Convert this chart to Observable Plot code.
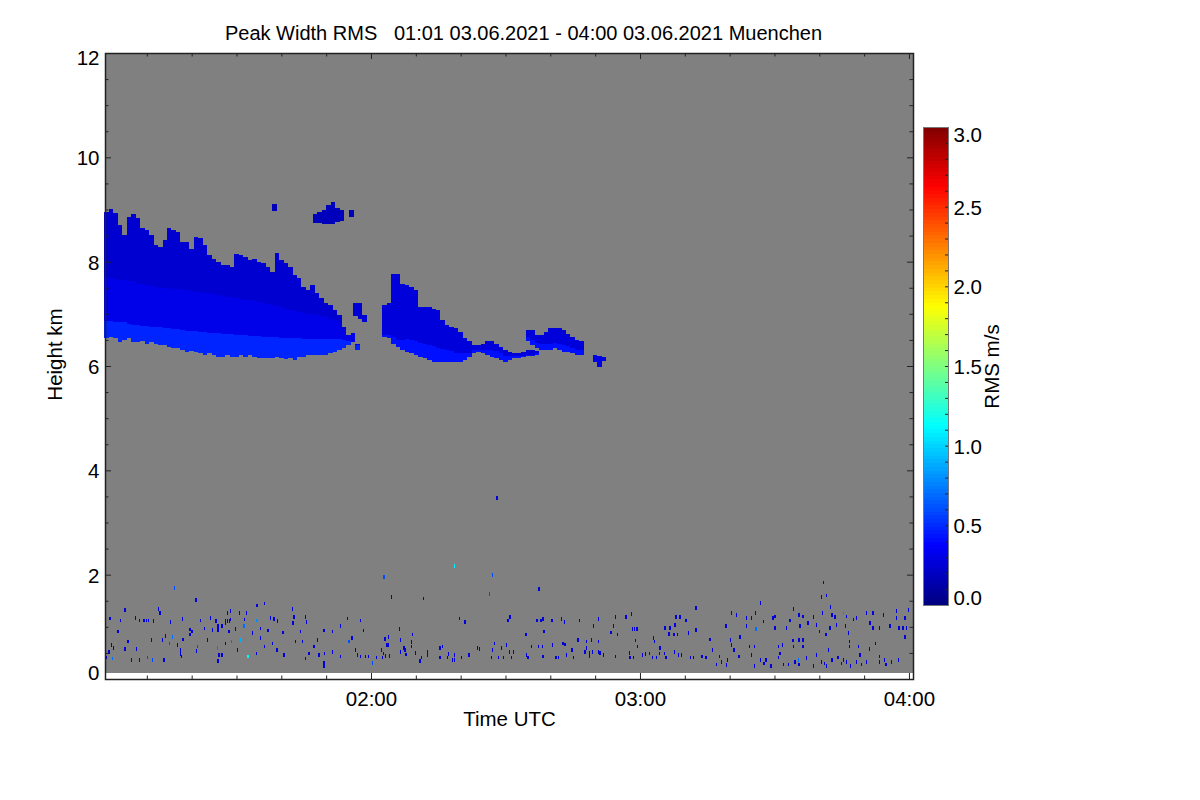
<!DOCTYPE html>
<html><head><meta charset="utf-8">
<script src="https://cdn.jsdelivr.net/npm/d3@7"></script>
<script src="https://cdn.jsdelivr.net/npm/@observablehq/plot@0.6"></script>
<style>
body{margin:0;background:#fff;}
#wrap{position:relative;width:1200px;height:800px;overflow:hidden;}
#wrap svg{position:absolute;top:0;}
</style></head><body><div id="wrap"></div>
<script>
// ---- axes / text ----
const titleText = "Peak Width RMS   01:01 03.06.2021 - 04:00 03.06.2021 Muenchen";
const xLabel = "Time UTC", yLabel = "Height km", cbLabel = "RMS m/s";
const timeStart = 0.67, timeEnd = 180.9;          // minutes after 01:00 UTC
const heightMin = 0.115, heightMax = 12;           // km (lowest gate .. top)
const xMajor = [60, 120, 180];
const xMajorLabels = ["02:00", "03:00", "04:00"];
const xMinor = [10, 20, 30, 40, 50, 70, 80, 90, 100, 110, 130, 140, 150, 160, 170];
const yMajor = [0, 2, 4, 6, 8, 10, 12];
const yMinor = [0.5,1,1.5,2.5,3,3.5,4.5,5,5.5,6.5,7,7.5,8.5,9,9.5,10.5,11,11.5];
const cbTicks = [0, 0.5, 1.0, 1.5, 2.0, 2.5, 3.0];
const jetStops = [0, 0.375, 1.125, 1.875, 2.625, 3];
const jetColors = ["#00007f", "#0000ff", "#00ffff", "#ffff00", "#ff0000", "#7f0000"];

// ---- main cirrus cloud (01:01-01:57), 1-min columns ----
const cloudATime = d3.range(1, 58);
const cloudATop = [8.96,9.01,8.93,8.70,8.51,8.86,8.91,8.83,8.64,8.61,
 8.52,8.32,8.29,8.41,8.64,8.61,8.57,8.38,8.38,8.25,
 8.48,8.45,8.32,8.13,8.06,8.00,7.94,7.94,7.90,8.14,
 8.13,8.09,8.03,8.06,8.00,7.97,7.90,7.81,8.16,8.03,
 7.97,7.90,7.74,7.68,7.52,7.46,7.55,7.39,7.30,7.20,
 7.17,7.07,6.98,6.75,6.59,6.63,6.43];
const cloudAMid = [7.68,7.68,7.66,7.65,7.64,7.63,7.62,7.6,7.58,7.56,
 7.54,7.52,7.5,7.5,7.5,7.48,7.47,7.46,7.45,7.44,
 7.42,7.41,7.4,7.39,7.38,7.36,7.34,7.33,7.32,7.3,
 7.28,7.27,7.26,7.24,7.22,7.2,7.18,7.16,7.15,7.13,
 7.1,7.08,7.06,7.04,7.02,7.0,7.0,6.98,6.96,6.94,
 6.9,6.88,6.85,6.7,6.59,6.63,6.43];
const cloudABand = [6.86,6.86,6.85,6.84,6.84,6.8,6.78,6.78,6.77,6.76,
 6.75,6.75,6.74,6.73,6.72,6.7,6.7,6.69,6.68,6.68,
 6.67,6.66,6.65,6.64,6.63,6.63,6.62,6.62,6.61,6.6,
 6.6,6.59,6.58,6.58,6.57,6.56,6.56,6.55,6.55,6.54,
 6.54,6.53,6.53,6.53,6.52,6.52,6.52,6.52,6.52,6.52,
 6.52,6.52,6.51,6.5,6.48,6.46,6.4];
const cloudABase = [6.53,6.56,6.53,6.46,6.50,6.53,6.46,6.46,6.48,6.43,
 6.46,6.43,6.40,6.40,6.37,6.34,6.34,6.30,6.27,6.29,
 6.27,6.24,6.21,6.24,6.21,6.18,6.18,6.21,6.18,6.18,
 6.21,6.18,6.21,6.18,6.15,6.16,6.15,6.16,6.18,6.15,
 6.13,6.15,6.11,6.18,6.18,6.21,6.21,6.22,6.21,6.22,
 6.24,6.27,6.30,6.34,6.40,6.46,6.30];
const cloudAValues = [0.48, 0.31, 0.24]; // lower band, body, upper part

// ---- second cloud (01:63-01:97) ----
const cloudBTime = d3.range(63, 98);
const cloudBTop = [7.17,7.2,7.77,7.77,7.58,7.55,7.52,7.46,7.14,7.14,7.14,7.1,7.07,6.88,6.79,6.75,6.72,6.66,6.53,6.47,6.4,6.4,6.43,6.47,6.47,6.43,6.37,6.31,6.27,6.24,6.24,6.27,6.3,6.3,6.28];
const cloudBBand = [6.6,6.6,6.55,6.5,6.5,6.52,6.5,6.48,6.45,6.42,6.4,6.38,6.35,6.33,6.3,6.28,6.25,6.25,6.25,6.25,6.3,6.3,6.3,6.3,6.3,6.28,6.25,6.2,6.2,6.2,6.2,6.2,6.22,6.22,6.24];
const cloudBBase = [6.56,6.53,6.43,6.36,6.31,6.27,6.24,6.21,6.18,6.15,6.11,6.08,6.08,6.08,6.08,6.08,6.08,6.08,6.11,6.18,6.24,6.27,6.24,6.21,6.18,6.15,6.11,6.08,6.11,6.15,6.15,6.18,6.2,6.2,6.22];
// ---- third cloud (02:35-02:47) ----
const cloudCTime = d3.range(95, 108);
const cloudCTop = [6.69,6.69,6.59,6.59,6.66,6.72,6.72,6.72,6.69,6.62,6.56,6.5,6.47];
const cloudCBand = [6.55,6.5,6.45,6.42,6.42,6.42,6.45,6.42,6.4,6.38,6.35,6.3,6.3];
const cloudCBase = [6.47,6.4,6.34,6.31,6.31,6.31,6.34,6.31,6.27,6.27,6.24,6.21,6.21];
const cloudBCValues = [0.42, 0.27];

// ---- small blobs ----
const blobTime = [38.5, 47.5,48.5,49.5,50.5,51.5,52.5,53.5, 55.6, 56.5,57.5,58.5, 110,111,112];
const blobTop  = [9.1, 8.91,8.95,9.0,9.08,9.14,9.02,9.0, 9.0, 7.2,7.2,6.98, 6.22,6.2,6.18];
const blobBase = [8.98, 8.74,8.74,8.72,8.72,8.72,8.76,8.78, 8.85, 6.95,6.9,6.85, 6.08,5.99,6.1];
const blobValue = [0.18, 0.18,0.18,0.18,0.18,0.18,0.18,0.18, 0.18, 0.25,0.25,0.25, 0.3,0.3,0.3];

// ---- boundary-layer speckles [minute, km, rms] ----
const speckles = [
[16.1,1.75,0.6],[21.0,1.51],[5.1,1.32],[12.6,1.34],[12.9,1.26],[34.6,1.41],[36.3,1.45],[42.5,1.34],[28.7,1.3],[28.0,1.26],
[1.8,1.16],[4.2,1.12],[7.5,1.17],[8.4,1.12],[9.4,1.12],[9.9,1.12],[10.4,1.12],[11.5,1.11],[15.3,1.09],[17.9,1.15],
[22.0,1.12],[24.2,1.17],[25.4,1.11],[25.9,1.01],[25.9,0.94],[27.6,1.11],[28.0,1.11],[28.5,1.11],[27.6,1.07],[28.7,1.14],
[30.6,1.26],[32.3,1.26],[31.8,1.14],[34.6,1.12,0.8],[37.6,1.17],[38.4,1.15],[39.1,1.11],[42.8,1.19],[42.6,1.07],[45.4,1.19],
[45.6,1.09],[54.7,1.16],[57.6,1.12],[58.3,0.93],[53.2,1.01],[49.5,0.93],[51.4,0.91],[44.3,0.91],[40.4,0.89],[37.0,0.93],
[35.4,0.97],[33.6,0.88],[31.7,1.01,0.7],[29.8,0.96],[28.3,0.91],[26.8,1.01],[24.6,0.94],[22.8,0.97],[19.6,0.95],[19.6,0.85],
[20.1,0.91],[14.2,0.83],[15.7,0.81,0.7],[3.6,0.91],[3.0,0.68,0.9],[2.1,0.65],[2.5,0.59],[1.6,0.52],[1.0,0.41],[2.3,0.39,0.7],
[5.1,0.57],[5.8,0.72],[7.7,0.57],[6.6,0.37],[8.3,0.37],[10.1,0.41,0.6],[11.2,0.37,0.6],[13.8,0.36],[11.0,0.75],[13.5,0.75],
[15.1,0.68,0.6],[16.8,0.65],[17.5,0.56],[17.5,0.48],[17.7,0.43],[18.1,0.76],[21.3,0.62,0.6],[21.1,0.54],[25.7,0.59,2.5],[23.5,0.75],
[26.1,0.46],[25.9,0.35],[26.8,0.46],[27.6,0.68],[28.9,0.72,0.7],[30.9,0.75,0.9],[30.2,0.56],[32.6,0.43,1.1],[34.5,0.49],[35.4,0.78],
[36.3,0.62],[38.0,0.68],[39.0,0.56],[40.6,0.46],[43.2,0.72],[44.7,0.72],[45.4,0.39],[46.2,0.49],[47.3,0.62],[48.0,0.75],
[48.4,0.46],[49.5,0.31],[49.5,0.25],[49.7,0.49],[51.4,0.52],[53.2,0.43],[55.1,0.72,0.6],[55.8,0.78],[56.6,0.56],[57.0,0.46],
[57.7,0.43],[58.8,0.43],[59.5,0.43],[60.3,0.31],
[78.7,2.17,1.1],[62.9,1.96,0.6],[87.1,1.99,0.6],[86.5,1.63,0.6],[64.6,1.57],[71.7,1.54],[97.5,1.72],[88.1,3.47],[79.7,1.16],[81.0,1.09],
[90.6,1.12],[91.0,1.19],[97.0,1.12],[97.9,1.12],[98.4,1.15],[100.4,1.12],[102.5,1.15],[103.1,1.09],[106.5,1.12],[110.7,1.15],
[114.6,1.19],[116.9,1.19],[118.1,1.25],[118.3,0.96],[118.8,0.96],[119.3,0.96],[114.1,1.02],[113.5,0.89],[115.0,0.85],[109.6,1.01],
[98.6,0.91],[94.6,0.85],[106.2,0.75],[108.1,0.72],[109.2,0.75],[110.7,0.72],[119.0,0.74],[119.5,0.62],[66.3,0.96],[63.9,0.8],
[63.1,0.77],[63.5,0.65],[63.8,0.65],[62.4,0.56],[62.8,0.49],[61.3,0.41],[60.4,0.31,0.6],[62.5,0.41],[64.2,0.44],[63.3,0.44],
[66.6,0.75],[67.4,0.59],[67.6,0.56],[66.6,0.52],[69.1,0.71],[69.1,0.62],[67.8,0.47],[69.2,0.85],[70.0,0.5],[71.3,0.41],
[70.9,0.35],[72.6,0.52],[72.6,0.46],[75.4,0.59],[76.0,0.62],[75.4,0.41],[77.3,0.48],[77.0,0.41],[78.2,0.37],[78.7,0.37],
[78.7,0.46],[80.2,0.41],[81.9,0.46],[84.2,0.57],[83.8,0.59],[87.1,0.56],[87.5,0.68],[86.9,0.41],[88.4,0.41],[89.5,0.41],
[89.1,0.59],[90.3,0.65],[90.9,0.52],[91.8,0.52],[91.4,0.41],[94.7,0.46],[95.0,0.41],[95.8,0.62],[97.3,0.62],[98.3,0.62],
[98.4,0.43],[100.5,0.65],[101.3,0.41],[101.8,0.41],[102.8,0.68],[103.3,0.66],[103.6,0.46],[104.8,0.56],[105.1,0.41],[107.7,0.52],
[108.1,0.59],[108.8,0.5],[108.8,0.43],[109.4,0.52],[110.7,0.52],[111.1,0.5],[111.8,0.46],[114.6,0.43],[117.6,0.5],[117.8,0.41],
[118.5,0.41],
[160.9,1.85],[160.5,1.57],[161.6,1.6],[146.9,1.46],[132.5,1.36],[154.2,1.34],[162.5,1.38],[165.4,1.27,0.8],[177.2,1.3],[179.9,1.32],
[128.0,1.19],[128.9,1.19],[130.3,1.12],[140.4,1.27],[141.6,1.23],[143.8,1.17],[144.9,1.17],[145.7,1.27],[149.7,1.17],[150.1,1.2],
[153.5,1.12],[155.5,1.23],[156.4,1.2],[158.7,1.19],[160.7,1.27],[162.8,1.23],[163.5,1.19],[166.1,1.2],[167.6,1.14],[170.6,1.27],
[172.0,1.27],[174.3,1.23],[177.2,1.17],[179.1,1.17],[125.6,0.98],[126.7,0.98],[127.8,1.04],[126.5,0.86],[127.6,0.85],[128.3,0.85],
[130.8,0.88],[132.5,0.94],[139.2,1.01],[142.3,0.81],[143.8,1.01],[145.9,0.96,0.7],[147.5,1.1],[150.1,0.98],[152.7,0.98],[155.7,1.01],
[157.5,1.07],[159.4,1.04],[160.1,0.91],[161.5,0.85],[162.4,0.98],[163.9,1.04],[165.9,1.01],[166.5,0.88],[168.3,1.17],[171.3,1.07],
[172.0,0.98],[173.5,0.98],[175.8,1.01],[177.8,0.98],[178.7,0.98],[179.5,0.98],[179.1,0.81],[123.0,0.78],[123.3,0.72],[135.6,0.76],
[140.2,0.75],[140.4,0.65],[144.5,0.62],[145.6,0.62],[150.9,0.62],[151.8,0.65],[154.1,0.74],[154.2,0.62],[155.5,0.75],[156.4,0.62],
[156.4,0.75],[162.0,0.56],[166.7,0.72],[166.8,0.62],[168.7,0.62],[171.2,0.58],[172.6,0.68],[124.5,0.59],[124.3,0.49],[125.4,0.49],
[120.6,0.46],[121.3,0.48],[122.1,0.49],[122.8,0.41],[123.7,0.41],[125.8,0.41],[127.7,0.52],[128.6,0.46],[129.3,0.46],[131.2,0.41],
[131.9,0.41],[133.8,0.43],[134.7,0.41],[136.2,0.56],[137.1,0.28],[137.8,0.43],[138.2,0.32],[139.5,0.36],[139.3,0.27],[141.0,0.56],
[142.1,0.43],[144.9,0.46],[145.6,0.25],[146.9,0.36],[147.7,0.3],[148.1,0.36],[149.2,0.25],[150.9,0.41],[151.2,0.49],[152.0,0.28],
[153.1,0.28],[154.6,0.33],[155.3,0.36,0.7],[155.5,0.28],[157.2,0.4],[158.7,0.25],[159.4,0.46],[160.5,0.32],[161.1,0.3],[161.6,0.25],
[162.8,0.36],[164.2,0.41],[165.0,0.3],[165.4,0.36],[166.0,0.32],[167.0,0.25],[168.3,0.32],[169.1,0.46],[169.4,0.28],[170.6,0.32],
[173.4,0.43],[173.4,0.32],[174.6,0.36],[174.9,0.28],[176.1,0.32],[177.6,0.36]
];
const speckleDefault = 0.26;

// ---------------- build tables ----------------
const colW = 1;             // column width, minutes
const spW = 0.3, spH = 0.07; // speckle cell size
const cloudA = cloudATime.map((t,i)=>({t, base:cloudABase[i], band:cloudABand[i], mid:cloudAMid[i], top:cloudATop[i]}));
const cloudB = cloudBTime.map((t,i)=>({t, base:cloudBBase[i], band:cloudBBand[i], top:cloudBTop[i]}));
const cloudC = cloudCTime.map((t,i)=>({t, base:cloudCBase[i], band:cloudCBand[i], top:cloudCTop[i]}));
const blobs = blobTime.map((t,i)=>({t, base:blobBase[i], top:blobTop[i], v:blobValue[i]}));
const specks = speckles.map(s=>({t:s[0], h:s[1], v: s[2] ?? speckleDefault}));
const bg = [{t1:timeStart, t2:timeEnd, h1:heightMin, h2:heightMax}];

const colorScale = {type:"linear", domain:jetStops, range:jetColors, clamp:true};
const font = "Liberation Sans, Arial, Helvetica, sans-serif";
const fs = 20.5;
const M = {l:105, r:287, t:53, b:121};
const plotW = 1200 - M.l - M.r, plotH = 800 - M.t - M.b;
const ink = "#222";

const colRect = (data, y1, y2, v) => Plot.rect(data, {
  x1: d=>d.t-colW/2, x2: d=>d.t+colW/2, y1, y2, fill: typeof v === "function" ? v : () => v,
  shapeRendering:"crispEdges"
});
const T = (opts) => ({fontSize:fs, fill:"#000", ...opts});

const main = Plot.plot({
  width:1200, height:800,
  marginLeft:M.l, marginRight:M.r, marginTop:M.t, marginBottom:M.b,
  x:{domain:[timeStart,timeEnd], axis:null},
  y:{domain:[0,heightMax], axis:null},
  color:colorScale,
  style:{fontFamily:font, fontSize:fs+"px", background:"#fff", overflow:"visible"},
  marks:[
    Plot.rect(bg, {x1:"t1", x2:"t2", y1:"h1", y2:"h2", fill:"#808080"}),
    colRect(cloudA, "base", "band", cloudAValues[0]),
    colRect(cloudA, "band", "mid", cloudAValues[1]),
    colRect(cloudA, "mid", "top", cloudAValues[2]),
    colRect(cloudB, "base", "band", cloudBCValues[0]),
    colRect(cloudB, "band", "top", cloudBCValues[1]),
    colRect(cloudC, "base", "band", cloudBCValues[0]),
    colRect(cloudC, "band", "top", cloudBCValues[1]),
    colRect(blobs, "base", "top", d=>d.v),
    Plot.rect(specks, {x1:d=>d.t-spW/2, x2:d=>d.t+spW/2, y1:d=>d.h-spH/2, y2:d=>d.h+spH/2, fill:"v", shapeRendering:"crispEdges"}),
    // ticks (inward) on all four sides
    Plot.tickX(xMajor, {x:d=>d, insetTop:plotH-6, stroke:ink}),
    Plot.tickX(xMinor, {x:d=>d, insetTop:plotH-3.5, stroke:ink}),
    Plot.tickX(xMajor, {x:d=>d, insetBottom:plotH-6, stroke:ink}),
    Plot.tickX(xMinor, {x:d=>d, insetBottom:plotH-3.5, stroke:ink}),
    Plot.tickY(yMajor, {y:d=>d, insetRight:plotW-6, stroke:ink}),
    Plot.tickY(yMinor, {y:d=>d, insetRight:plotW-3.5, stroke:ink}),
    Plot.tickY(yMajor, {y:d=>d, insetLeft:plotW-6, stroke:ink}),
    Plot.tickY(yMinor, {y:d=>d, insetLeft:plotW-3.5, stroke:ink}),
    Plot.frame({stroke:ink, strokeWidth:1.5}),
    // tick labels
    Plot.text(xMajor, T({x:d=>d, frameAnchor:"bottom", lineAnchor:"middle", dy:20, text:(d,i)=>xMajorLabels[i]})),
    Plot.text(yMajor.slice(1,-1), T({y:d=>d, frameAnchor:"left", lineAnchor:"middle", dx:-6, dy:1, textAnchor:"end", text:d=>String(d)})),
    Plot.text(yMajor.slice(-1), T({y:d=>d, frameAnchor:"left", lineAnchor:"middle", dx:-6, dy:5, textAnchor:"end", text:d=>String(d)})),
    Plot.text(yMajor.slice(0,1), T({y:d=>d, frameAnchor:"left", lineAnchor:"middle", dx:-6, dy:-6, textAnchor:"end", text:d=>String(d)})),
    // titles
    Plot.text([titleText], T({frameAnchor:"top", lineAnchor:"middle", textAnchor:"middle", dx:14, dy:-20, text:d=>d, fontSize:20})),
    Plot.text([xLabel], T({frameAnchor:"bottom", lineAnchor:"middle", textAnchor:"middle", dy:40, text:d=>d})),
    Plot.text([yLabel], T({frameAnchor:"left", lineAnchor:"middle", textAnchor:"middle", dx:-50, dy:-12, rotate:-90, text:d=>d}))
  ]
});
main.style.left = "0px";
main.querySelectorAll("text").forEach(t=>t.style.whiteSpace="pre");

// ---------------- colour bar ----------------
const cbStep = 3/128;
const cbSteps = d3.range(0, 128).map(i => i*cbStep);
const cbMinor = d3.range(1, 30).map(i => i/10);
const cb = Plot.plot({
  width:300, height:800,
  marginLeft:23, marginRight:252, marginTop:127, marginBottom:195,
  x:{domain:[0,1], axis:null},
  y:{domain:[0,3], axis:null},
  color:colorScale,
  style:{fontFamily:font, fontSize:fs+"px", background:"transparent", overflow:"visible"},
  marks:[
    Plot.rect(cbSteps, {x1:0, x2:1, y1:d=>d, y2:d=>d+cbStep, fill:d=>d+cbStep/2, shapeRendering:"crispEdges"}),
    Plot.tickY(cbMinor, {y:d=>d, insetLeft:22, stroke:ink}),
    Plot.frame({stroke:"#777", strokeWidth:1}),
    Plot.text(cbTicks.slice(1,-1), T({x:1, y:d=>d, dx:5, dy:1, textAnchor:"start", lineAnchor:"middle", text:d=>d.toFixed(1)})),
    Plot.text(cbTicks.slice(-1), T({x:1, y:d=>d, dx:5, dy:8, textAnchor:"start", lineAnchor:"middle", text:d=>d.toFixed(1)})),
    Plot.text(cbTicks.slice(0,1), T({x:1, y:d=>d, dx:5, dy:-7, textAnchor:"start", lineAnchor:"middle", text:d=>d.toFixed(1)})),
    Plot.text([cbLabel], T({frameAnchor:"right", dx:44, rotate:-90, textAnchor:"middle", lineAnchor:"middle", text:d=>d}))
  ]
});
cb.style.left = "900px";
const wrap = document.getElementById("wrap");
wrap.appendChild(main);
wrap.appendChild(cb);
</script>
</body></html>
